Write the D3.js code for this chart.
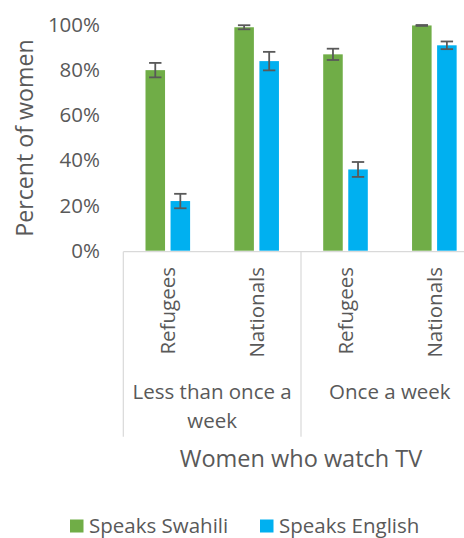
<!DOCTYPE html>
<html><head><meta charset="utf-8">
<script src="https://cdn.jsdelivr.net/npm/d3@7"></script>
<style>body{margin:0;background:#fff}text{font-family:"Open Sans",sans-serif;fill:#595959}</style>
</head><body>
<svg id="chart" width="464" height="538"></svg>
<script>
const groups = ["Less than once a week", "Once a week"];
const groupLines = [["Less than once a", "week"], ["Once a week"]];
const subcats = ["Refugees", "Nationals"];
const series = ["Speaks Swahili", "Speaks English"];
const colors = ["#70AD47", "#00B0F0"];
const swahili = [80, 99, 87, 99.8];
const english = [22, 84, 36, 91];
const swahiliErr = [3.2, 0.9, 2.5, 0.2];
const englishErr = [3.2, 4.1, 3.3, 1.7];
const yTicks = [0, 20, 40, 60, 80, 100];
const yTitle = "Percent of women";
const xTitle = "Women who watch TV";

const svg = d3.select("#chart");
const mLeft = 123.3, mRight = 478.7, mTop = 25, mBottom = 250.7;

const y = d3.scaleLinear().domain([0, 100]).range([mBottom, mTop]);
const xg = d3.scaleBand().domain(groups).range([mLeft, mRight]);
const xs = d3.scaleBand().domain(subcats).range([0, xg.bandwidth()]);
const xr = d3.scaleBand().domain(series).range([22.2, 66.8]).paddingInner(0.22);

const rows = [];
groups.forEach((g, gi) => subcats.forEach((s, si) => {
  const i = gi * 2 + si;
  rows.push({g, s, i, vals: [swahili[i], english[i]], errs: [swahiliErr[i], englishErr[i]]});
}));

// y axis
const ya = svg.append("g").attr("transform", `translate(${mLeft},0)`)
  .call(d3.axisLeft(y).tickValues(yTicks).tickSize(0).tickPadding(23.3).tickFormat(d => d + "%"));
ya.select(".domain").remove();
ya.selectAll("text").style("font-family", '"Open Sans",sans-serif').style("font-size", "20.5px").attr("fill", "#595959");

// y title
svg.append("text").attr("transform", `translate(25,138) rotate(-90)`)
  .attr("text-anchor", "middle").attr("dy", "0.35em").style("font-size", "23.2px").text(yTitle);

// category axis lines
const lineColor = "#D9D9D9";
svg.append("line").attr("x1", mLeft).attr("x2", mRight).attr("y1", mBottom + 1).attr("y2", mBottom + 1)
  .attr("stroke", lineColor).attr("stroke-width", 1.2);
[...groups.map(g => xg(g)), mRight].forEach(xv => {
  svg.append("line").attr("x1", xv).attr("x2", xv).attr("y1", mBottom + 1).attr("y2", 436.7)
    .attr("stroke", lineColor).attr("stroke-width", 1.2);
});

// bars
const cat = svg.selectAll("g.cat").data(rows).join("g").attr("class", "cat")
  .attr("transform", d => `translate(${xg(d.g) + xs(d.s)},0)`);
series.forEach((sn, k) => {
  cat.append("rect").attr("x", xr(sn)).attr("width", xr.bandwidth())
    .attr("y", d => y(d.vals[k])).attr("height", d => y(0) - y(d.vals[k]))
    .attr("fill", colors[k]);
  const cx = xr(sn) + xr.bandwidth() / 2, cw = 6.2;
  const hi = d => y(Math.min(100.2, d.vals[k] + d.errs[k]));
  const lo = d => y(d.vals[k] - d.errs[k]);
  const eb = cat.append("g").attr("stroke", "#595959").attr("stroke-width", 1.8);
  eb.append("line").attr("x1", cx).attr("x2", cx).attr("y1", hi).attr("y2", lo);
  eb.append("line").attr("x1", cx - cw).attr("x2", cx + cw).attr("y1", hi).attr("y2", hi);
  eb.append("line").attr("x1", cx - cw).attr("x2", cx + cw).attr("y1", lo).attr("y2", lo);
});

// subcategory labels (rotated)
cat.append("text").attr("transform", d => `translate(${xs.bandwidth() / 2},267) rotate(-90)`)
  .attr("text-anchor", "end").attr("dy", "0.36em").style("font-size", "20.5px").text(d => d.s);

// group labels
groups.forEach((g, gi) => {
  const cx = xg(g) + xg.bandwidth() / 2;
  const t = svg.append("text").attr("x", cx).attr("y", 399.3)
    .attr("text-anchor", "middle").style("font-size", "20.5px");
  groupLines[gi].forEach((ln, li) => t.append("tspan").attr("x", cx)
    .attr("y", 399.3 + li * 29).text(ln));
});

// x title
svg.append("text").attr("x", (mLeft + mRight) / 2).attr("y", 466.7).attr("text-anchor", "middle")
  .style("font-size", "23.5px").text(xTitle);

// legend
const legX = [70, 260];
series.forEach((sn, k) => {
  svg.append("rect").attr("x", legX[k]).attr("y", 519.5).attr("width", 13.5).attr("height", 13)
    .attr("fill", colors[k]);
  svg.append("text").attr("x", legX[k] + 19).attr("y", 532.5).style("font-size", "20.5px").text(sn);
});
</script>
</body></html>
